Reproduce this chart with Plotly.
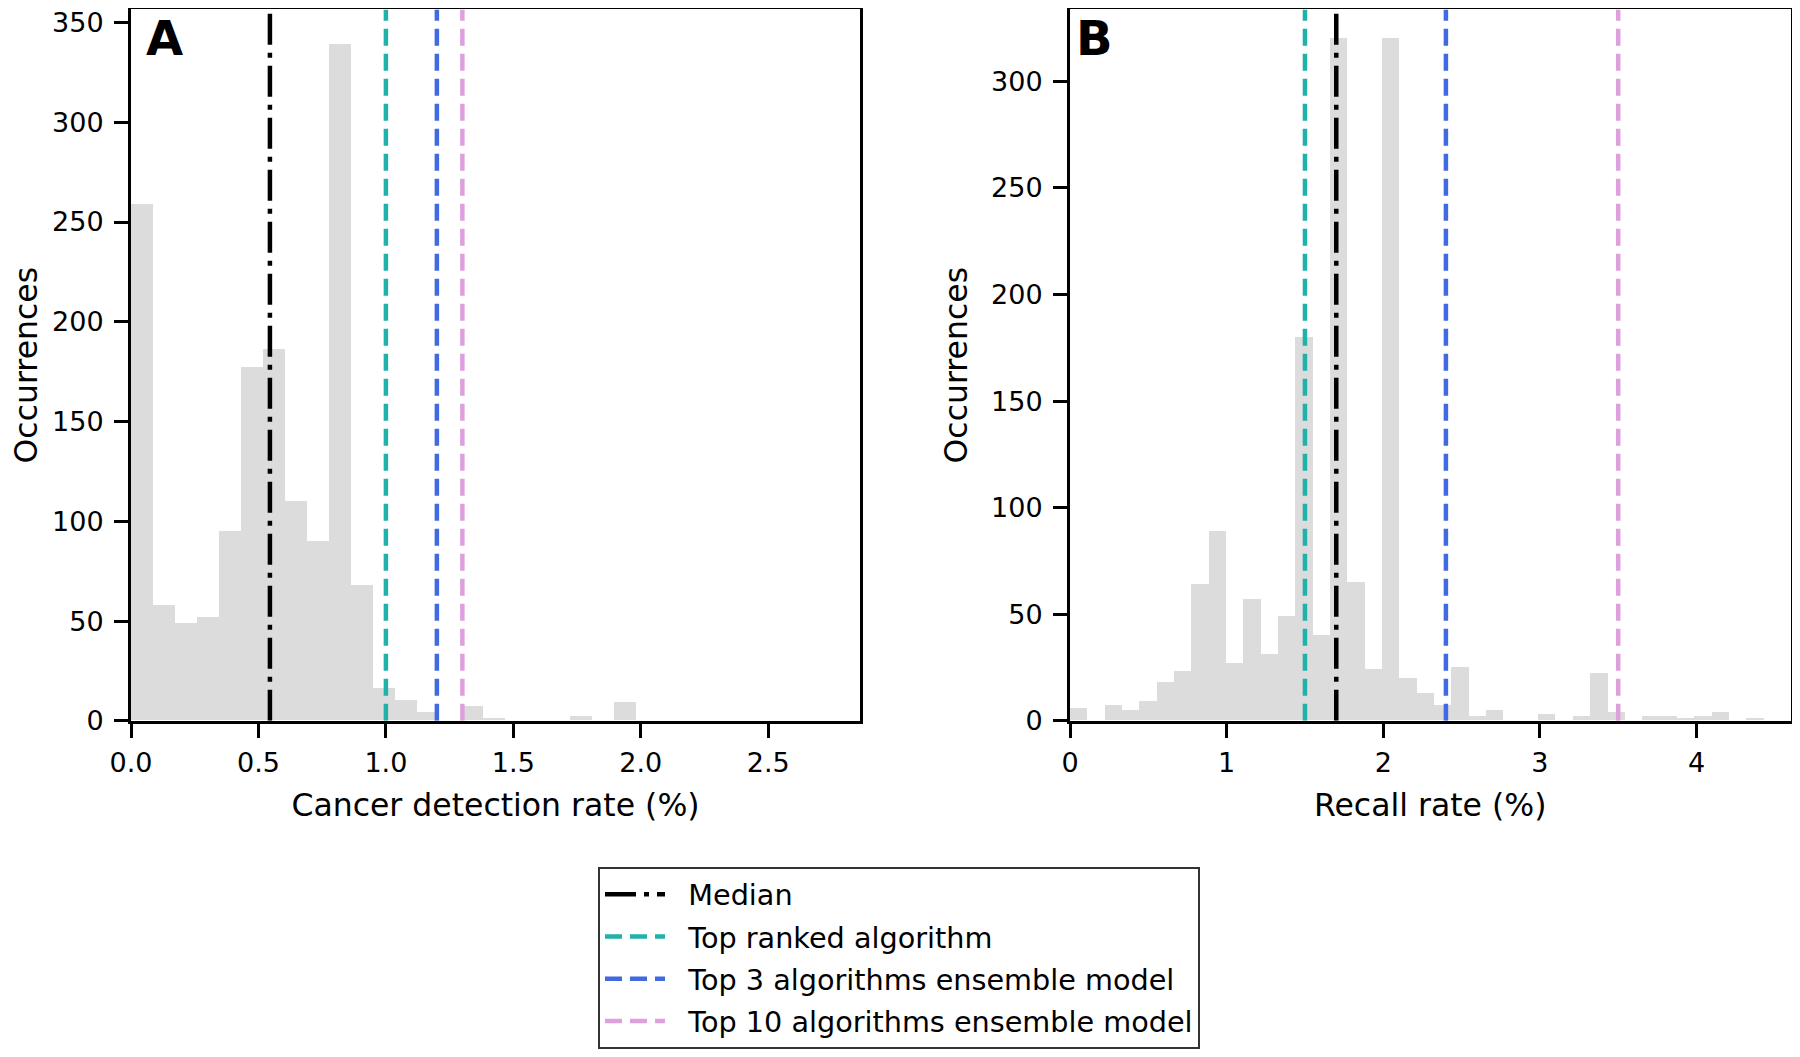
import numpy as np
import plotly.graph_objects as go

# ---- data ----
# panel A: cancer detection rate histogram (bins start at 0)
cdr_bin_width = 0.0862
cdr_counts = [259, 58, 49, 52, 95, 177, 186, 110, 90, 339, 68, 16, 10, 4, 0, 7, 1,
              0, 0, 0, 2, 0, 9, 0, 0, 0, 0, 0, 0, 0, 0, 0, 0, 0]
cdr_lines = [0.545, 1.0, 1.2, 1.3]   # median, top1, top3, top10

# panel B: recall rate histogram
recall_bin_width = 0.1107
recall_counts = [6, 0, 7, 5, 9, 18, 23, 64, 89, 27, 57, 31, 49, 180, 40, 320, 65, 24,
                 320, 20, 13, 7, 25, 2, 5, 0, 0, 3, 0, 2, 22, 4, 0, 2, 2, 1, 2, 4,
                 0, 1, 0, 0]
recall_lines = [1.7, 1.5, 2.4, 3.5]

line_names = ["Median", "Top ranked algorithm", "Top 3 algorithms ensemble model",
              "Top 10 algorithms ensemble model"]
line_colors = ["#000000", "#20B2AA", "#4169E1", "#DDA0DD"]
line_dashes = ["31px,8px,5px,8px", "17px,8px", "17px,8px", "17px,8px"]

x_ticks_a = [0.0, 0.5, 1.0, 1.5, 2.0, 2.5]
x_ticks_b = [0, 1, 2, 3, 4]
y_ticks_a = [0, 50, 100, 150, 200, 250, 300, 350]
y_ticks_b = [0, 50, 100, 150, 200, 250, 300]

FONT = "DejaVu Sans"
BAR_COLOR = "#DCDCDC"

# the html page puts the plot 8px in from the corner; keep it inside the window
OFF = 8
W, H = 1800 - 2 * OFF, 1057 - 2 * OFF


def px_x(p):
    return min(1.0, max(0.0, (p - OFF) / W))


def px_y(p):
    return min(1.0, max(0.0, 1 - (p - OFF) / H))


YMAX_A, YMAX_B = 356.5, 333.7

fig = go.Figure()


def add_panel(counts, width, lines, xa, ya, ymax, legend):
    edges = np.arange(len(counts)) * width
    fig.add_trace(go.Bar(
        x=edges, y=counts, width=width, offset=0,
        marker=dict(color=BAR_COLOR, line=dict(width=0)),
        showlegend=False, xaxis=xa, yaxis=ya, hoverinfo="skip"
    ))
    for i, v in enumerate(lines):
        fig.add_trace(go.Scatter(
            x=[v, v], y=[0, ymax], mode="lines",
            name="\u00a0\u00a0" + line_names[i], legendgroup=line_names[i],
            line=dict(color=line_colors[i], width=4.5, dash=line_dashes[i]),
            showlegend=legend, xaxis=xa, yaxis=ya
        ))


add_panel(cdr_counts, cdr_bin_width, cdr_lines, "x", "y", YMAX_A, True)
add_panel(recall_counts, recall_bin_width, recall_lines, "x2", "y2", YMAX_B, False)

axis_common = dict(
    showline=True, mirror=True, linewidth=3, linecolor="black",
    ticks="outside", ticklen=14, tickwidth=2.5, tickcolor="black",
    showgrid=False, zeroline=False, automargin=False,
    ticklabeloverflow="allow",
    tickfont=dict(family=FONT, size=27, color="black"),
)

ydom = [px_y(725), px_y(9.5)]

fig.update_layout(
    width=W, height=H,
    margin=dict(l=0, r=0, t=0, b=0),
    paper_bgcolor="white", plot_bgcolor="white",
    font=dict(family=FONT, color="black"),
    bargap=0,
    xaxis=dict(axis_common, domain=[px_x(131), px_x(860)], range=[0, 2.86],
               tickvals=x_ticks_a, tickformat=".1f", ticklabelstandoff=2,
               title=dict(text="Cancer detection rate (%)", standoff=17,
                          font=dict(family=FONT, size=31.5))),
    yaxis=dict(axis_common, domain=ydom, range=[0, YMAX_A], tickvals=y_ticks_a,
               ticklabelstandoff=5,
               title=dict(text="Occurrences", standoff=19,
                          font=dict(family=FONT, size=31.5))),
    xaxis2=dict(axis_common, domain=[px_x(1070), px_x(1790.5)], range=[0, 4.6],
                tickvals=x_ticks_b, anchor="y2", ticklabelstandoff=2,
                title=dict(text="Recall rate (%)", standoff=17,
                           font=dict(family=FONT, size=31.5))),
    yaxis2=dict(axis_common, domain=ydom, range=[0, YMAX_B], tickvals=y_ticks_b,
                anchor="x2", ticklabelstandoff=5,
                title=dict(text="Occurrences", standoff=15,
                           font=dict(family=FONT, size=31.5))),
    legend=dict(
        x=px_x(598), y=px_y(872), xanchor="left", yanchor="top",
        bgcolor="white", bordercolor="#333333", borderwidth=2,
        font=dict(family=FONT, size=28.7, color="black"),
        itemwidth=60, traceorder="grouped", tracegroupgap=2,
    ),
)

# panel letters
for xa, ya, xpos, letter in [("x", "y", 0.018, "A"), ("x2", "y2", 0.005, "B")]:
    fig.add_annotation(
        text="<b>%s</b>" % letter, xref=xa + " domain", yref=ya + " domain",
        x=xpos, y=1.0, yshift=1, xanchor="left", yanchor="top", showarrow=False,
        font=dict(family=FONT, size=48, color="black")
    )

fig.write_html("out.html")
